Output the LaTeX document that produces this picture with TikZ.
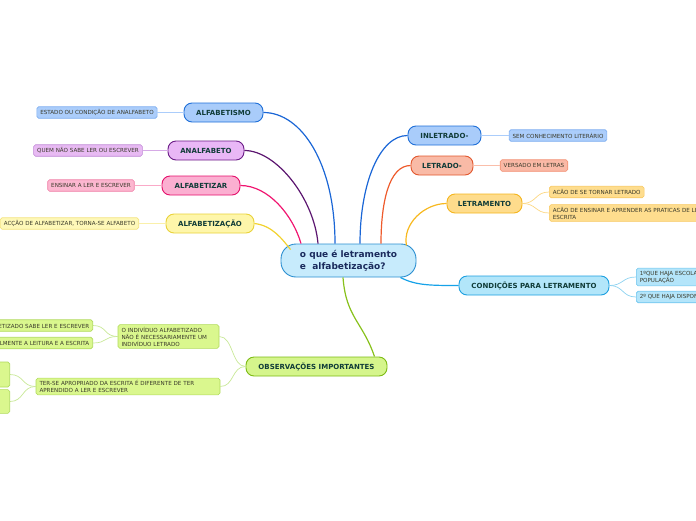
\documentclass[tikz,border=0pt]{standalone}
\usepackage{fontspec}
\setmainfont{DejaVu Sans}
\definecolor{titletxt}{HTML}{103C38}
\definecolor{leaftxt}{HTML}{3A3A2A}
\definecolor{maintxt}{HTML}{1A2A5C}
\tikzset{
  topic/.style={draw, rounded corners=8pt, line width=0.9pt, minimum height=19pt,
    inner sep=0pt, text=titletxt, font=\bfseries\fontsize{7}{8}\selectfont},
  leaf/.style={draw, rounded corners=1.8pt, line width=0.6pt, minimum height=11.5pt,
    inner xsep=3.5pt, inner ysep=2.2pt, text=leaftxt, align=left,
    font=\fontsize{5.6}{7}\selectfont},
  branch/.style={line width=1.2pt},
  twig/.style={line width=0.7pt},
}
\begin{document}
\begin{tikzpicture}[x=1pt,y=1pt,yscale=-1]
        \useasboundingbox (0,0) rectangle (696,520);
        \clip (0,0) rectangle (696,520);
        % Central topic
        \node [draw={rgb,255:red,42;green,142;blue,208}, fill={rgb,255:red,199;green,235;blue,252}, rounded corners=15pt, line width=0.9pt,
          minimum width=135pt, minimum height=33pt, text=maintxt, align=left, font=\bfseries\fontsize{9}{12}\selectfont]
          (centro) at (348.5,260.5) {o que é letramento\\e\ \ alfabetização?};
        %%% left side
        % Topic: ALFABETISMO
        \node [topic, draw={rgb,255:red,31;green,111;blue,216}, fill={rgb,255:red,169;green,204;blue,250}, minimum width=79pt] (alfabetismo) at (223.5,112.5) {ALFABETISMO};
        \node [leaf, draw={rgb,255:red,126;green,174;blue,240}, fill={rgb,255:red,171;green,205;blue,251}] (estado) at (97,112.5) {ESTADO OU CONDIÇÃO DE ANALFABETO};
        % Topic: ANALFABETO
        \node [topic, draw={rgb,255:red,106;green,27;blue,134}, fill={rgb,255:red,233;green,183;blue,246}, minimum width=76pt] (analfabeto) at (206,150.5) {ANALFABETO};
        \node [leaf, draw={rgb,255:red,191;green,136;blue,214}, fill={rgb,255:red,232;green,186;blue,243}] (quem) at (88,150.5) {QUEM NÃO SABE LER OU ESCREVER};
        % Topic: ALFABETIZAR
        \node [topic, draw={rgb,255:red,229;green,16;blue,107}, fill={rgb,255:red,251;green,175;blue,209}, minimum width=78pt] (alfabetizar) at (201,185.5) {ALFABETIZAR};
        \node [leaf, draw={rgb,255:red,240;green,126;blue,166}, fill={rgb,255:red,252;green,183;blue,208}] (ensinar) at (91,185.5) {ENSINAR A LER E ESCREVER};
        % Topic: ALFABETIZAÇÃO
        \node [topic, draw={rgb,255:red,233;green,210;blue,58}, fill={rgb,255:red,254;green,246;blue,170}, minimum width=88pt] (alfabetizacao) at (210,223.5) {ALFABETIZAÇÃO};
        \node [leaf, draw={rgb,255:red,244;green,227;blue,126}, fill={rgb,255:red,254;green,248;blue,184}, anchor=east] (accao) at (139,223.5) {ACÇÃO DE ALFABETIZAR, TORNA-SE ALFABETO};
        %%% right side
        % Topic: INLETRADO
        \node [topic, draw={rgb,255:red,31;green,111;blue,216}, fill={rgb,255:red,169;green,204;blue,250}, minimum width=73pt] (inletrado) at (444.5,135.5) {INLETRADO-};
        \node [leaf, draw={rgb,255:red,126;green,174;blue,240}, fill={rgb,255:red,171;green,205;blue,251}] (semconh) at (558,135.5) {SEM CONHECIMENTO LITERÁRIO};
        % Topic: LETRADO
        \node [topic, draw={rgb,255:red,226;green,87;blue,45}, fill={rgb,255:red,249;green,186;blue,166}, minimum width=62pt] (letrado) at (442,165.5) {LETRADO-};
        \node [leaf, draw={rgb,255:red,242;green,142;blue,112}, fill={rgb,255:red,250;green,185;blue,166}] (versado) at (534,165.5) {VERSADO EM LETRAS};
        % Topic: LETRAMENTO
        \node [topic, draw={rgb,255:red,244;green,181;blue,30}, fill={rgb,255:red,254;green,220;blue,140}, minimum width=75pt] (letramento) at (484.5,203.5) {LETRAMENTO};
        \node [leaf, draw={rgb,255:red,248;green,200;blue,96}, fill={rgb,255:red,254;green,221;blue,142}, anchor=west] (tornar) at (549,192) {ACÃO DE SE TORNAR LETRADO};
        \node [leaf, draw={rgb,255:red,248;green,200;blue,96}, fill={rgb,255:red,254;green,221;blue,142}, anchor=west] (praticas) at (549,213) {ACÃO DE ENSINAR E APRENDER AS PRATICAS DE LEITURA E\\ESCRITA};
        % Topic: CONDIÇÕES PARA LETRAMENTO
        \node [topic, draw={rgb,255:red,27;green,159;blue,224}, fill={rgb,255:red,178;green,230;blue,250}, minimum width=150pt] (condicoes) at (534,285.5) {CONDIÇÕES PARA LETRAMENTO};
        \node [leaf, draw={rgb,255:red,108;green,196;blue,238}, fill={rgb,255:red,180;green,229;blue,250}, anchor=west] (primeira) at (636,277) {1ºQUE HAJA ESCOLARIZAÇÃO REAL E EFETIVA DA\\POPULAÇÃO};
        \node [leaf, draw={rgb,255:red,108;green,196;blue,238}, fill={rgb,255:red,180;green,229;blue,250}, anchor=west] (segunda) at (636,297) {2º QUE HAJA DISPONIBILIDADE DE MATERIAL DE LEITURA};
        %%% bottom
        % Topic: OBSERVAÇÕES IMPORTANTES
        \node [topic, draw={rgb,255:red,125;green,187;blue,20}, fill={rgb,255:red,213;green,245;blue,140}, minimum width=141pt] (obs) at (316.5,366.5) {OBSERVAÇÕES IMPORTANTES};
        \node [leaf, draw={rgb,255:red,176;green,218;blue,92}, fill={rgb,255:red,218;green,247;blue,142}, text width=94pt] (individuo) at (168.5,336.5) {O INDIVÍDUO ALFABETIZADO\\NÃO É NECESSARIAMENTE UM\\INDIVÍDUO LETRADO};
        \node [leaf, draw={rgb,255:red,176;green,218;blue,92}, fill={rgb,255:red,218;green,247;blue,142}, text width=177pt] (apropriado) at (128,386.5) {TER-SE APROPRIADO DA ESCRITA É DIFERENTE DE TER\\APRENDIDO A LER E ESCREVER};
        \node [leaf, draw={rgb,255:red,176;green,218;blue,92}, fill={rgb,255:red,218;green,247;blue,142}, anchor=east] (sabeler) at (93,325.5) {O INDIVÍDUO ALFABETIZADO SABE LER E ESCREVER};
        \node [leaf, draw={rgb,255:red,176;green,218;blue,92}, fill={rgb,255:red,218;green,247;blue,142}, anchor=east] (usa) at (93,343) {O LETRADO USA SOCIALMENTE A LEITURA E A ESCRITA};
        \node [leaf, draw={rgb,255:red,176;green,218;blue,92}, fill={rgb,255:red,218;green,247;blue,142}, anchor=east, minimum height=25pt, text width=100pt] (escrita) at (10,374.5) {A ESCRITA E A LEITURA\\FAZEM PARTE DA VIDA\\DO INDIVÍDUO LETRADO};
        \node [leaf, draw={rgb,255:red,176;green,218;blue,92}, fill={rgb,255:red,218;green,247;blue,142}, anchor=east, minimum height=19pt, text width=92pt] (ler) at (10,401.5) {SABER LER NÃO É SER LETRADO.\\LETRAMENTO};
        %%% branches
        \draw [branch, color={rgb,255:red,26;green,102;blue,214}] (alfabetismo.east) .. controls +(38,0) and +(0,-80) .. ([xshift=-13.5pt]centro.north);
        \draw [branch, color={rgb,255:red,92;green,22;blue,112}] (analfabeto.east) .. controls +(32,0) and +(-4,-45) .. ([xshift=-30.5pt]centro.north);
        \draw [branch, color={rgb,255:red,240;green,21;blue,112}] (alfabetizar.east) .. controls +(28,0) and +(-8,-28) .. ([xshift=-47.5pt]centro.north);
        \draw [branch, color={rgb,255:red,242;green,210;blue,46}] (alfabetizacao.east) .. controls +(18,2) and +(-8,-10) .. ([xshift=10pt,yshift=6pt]centro.north west);
        \draw [branch, color={rgb,255:red,26;green,102;blue,214}] (inletrado.west) .. controls +(-28,0) and +(0,-60) .. ([xshift=11.5pt]centro.north);
        \draw [branch, color={rgb,255:red,238;green,91;blue,44}] (letrado.west) .. controls +(-22,0) and +(0,-40) .. ([xshift=32.5pt]centro.north);
        \draw [branch, color={rgb,255:red,247;green,184;blue,31}] (letramento.west) .. controls +(-22,0) and +(-4,-22) .. ([xshift=-10pt,yshift=2pt]centro.north east);
        \draw [branch, color={rgb,255:red,22;green,162;blue,232}] (condicoes.west) .. controls +(-28,0) and +(15,8) .. ([xshift=-16pt]centro.south east);
        \draw [branch, color={rgb,255:red,136;green,193;blue,28}] ([xshift=-5.5pt]centro.south) .. controls +(3,40) and +(-12,-35) .. ([xshift=58pt]obs.north);
        %%% twigs
        \draw [twig, color={rgb,255:red,171;green,205;blue,251}] (alfabetismo) -- (estado);
        \draw [twig, color={rgb,255:red,214;green,170;blue,230}] (analfabeto) -- (quem);
        \draw [twig, color={rgb,255:red,250;green,170;blue,200}] (alfabetizar) -- (ensinar);
        \draw [twig, color={rgb,255:red,250;green,240;blue,170}] (alfabetizacao) -- (accao);
        \draw [twig, color={rgb,255:red,171;green,205;blue,251}] (inletrado) -- (semconh);
        \draw [twig, color={rgb,255:red,250;green,190;blue,170}] (letrado) -- (versado);
        \draw [twig, color={rgb,255:red,252;green,215;blue,130}] (letramento.east) .. controls +(14,0) and +(-14,0) .. (tornar.west);
        \draw [twig, color={rgb,255:red,252;green,215;blue,130}] (letramento.east) .. controls +(14,0) and +(-14,0) .. (praticas.west);
        \draw [twig, color={rgb,255:red,140;green,210;blue,240}] (condicoes.east) .. controls +(14,0) and +(-14,0) .. (primeira.west);
        \draw [twig, color={rgb,255:red,140;green,210;blue,240}] (condicoes.east) .. controls +(14,0) and +(-14,0) .. (segunda.west);
        \draw [twig, color={rgb,255:red,200;green,232;blue,150}] (obs.west) .. controls +(-14,0) and +(14,0) .. (individuo.east);
        \draw [twig, color={rgb,255:red,200;green,232;blue,150}] (obs.west) .. controls +(-14,0) and +(14,0) .. (apropriado.east);
        \draw [twig, color={rgb,255:red,200;green,232;blue,150}] (individuo.west) .. controls +(-14,0) and +(14,0) .. (sabeler.east);
        \draw [twig, color={rgb,255:red,200;green,232;blue,150}] (individuo.west) .. controls +(-14,0) and +(14,0) .. (usa.east);
        \draw [twig, color={rgb,255:red,200;green,232;blue,150}] (apropriado.west) .. controls +(-14,0) and +(14,0) .. (escrita.east);
        \draw [twig, color={rgb,255:red,200;green,232;blue,150}] (apropriado.west) .. controls +(-14,0) and +(14,0) .. (ler.east);
\end{tikzpicture}
\end{document}
